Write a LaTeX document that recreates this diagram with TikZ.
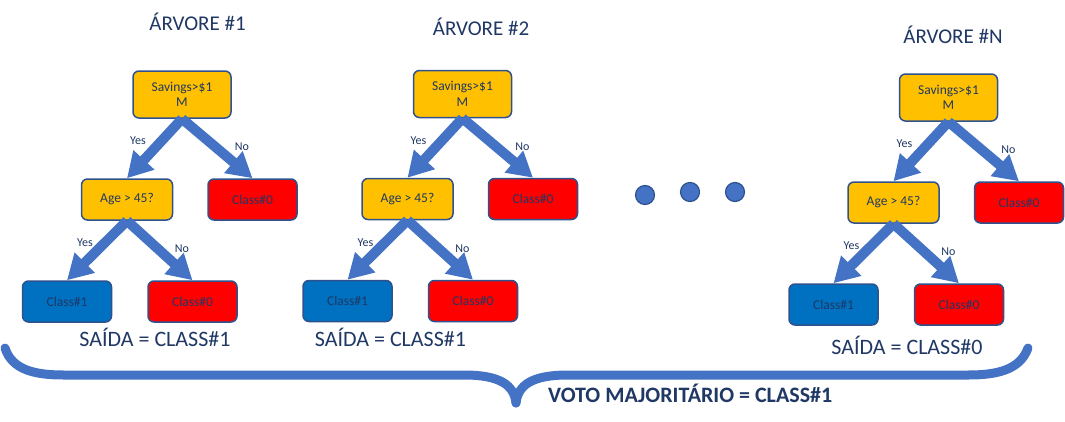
\documentclass[tikz,border=0pt]{standalone}
\usepackage{fontspec}
\setmainfont{Carlito}
\usetikzlibrary{arrows.meta}
\definecolor{gold}{HTML}{FFC000}
\definecolor{redc}{HTML}{FF0000}
\definecolor{bluec}{HTML}{0070C0}
\definecolor{edgec}{HTML}{2F528F}
\definecolor{arrowc}{HTML}{4472C4}
\definecolor{navy}{HTML}{1F3864}
\tikzset{
 box/.style={draw=edgec, line width=1.5pt, rounded corners=6pt, inner sep=0pt, text=navy, font=\fontsize{13.5}{15.5}\selectfont, align=center},
 rootbox/.style={box, fill=gold, minimum width=98pt, minimum height=47pt},
 agebox/.style={box, fill=gold, minimum width=91pt, minimum height=41pt},
 redbox/.style={box, fill=redc, minimum width=89pt, minimum height=41pt},
 bluebox/.style={box, fill=bluec, minimum width=89pt, minimum height=41pt},
 arr/.style={draw=arrowc, line width=10pt, -{Triangle[width=27pt,length=25pt]}},
 lbl/.style={text=navy, font=\fontsize{12}{13}\selectfont, inner sep=0pt},
 ttl/.style={text=navy, font=\fontsize{21}{25}\selectfont, inner sep=0pt},
 outtxt/.style={text=navy, font=\fontsize{22}{26}\selectfont, inner sep=0pt},
 vote/.style={text=navy, font=\fontsize{22}{26}\selectfont\bfseries, inner sep=0pt},
 dotc/.style={circle, draw=edgec, line width=1.2pt, fill=arrowc, minimum size=19pt, inner sep=0pt},
 bracec/.style={draw=arrowc, line width=9pt, line cap=round},
}
\newcommand\drawtree[3]{%
\begin{scope}[shift={(#2,#3)}]
 \node[rootbox] (#1r) at (0,0) {Savings>\$1\\M};
 \node[agebox] (#1a) at (-55,105) {Age > 45?};
 \node[redbox] (#1n) at (70.5,105) {Class\#0};
 \node[bluebox] (#1y) at (-115,207) {Class\#1};
 \node[redbox] (#1z) at (10.5,207) {Class\#0};
 \draw[arr] (#1r.south) -- (#1a.north);
 \draw[arr] (#1r.south) -- (#1n.north);
 \draw[arr] (#1a.south) -- (#1y.north);
 \draw[arr] (#1a.south) -- (#1z.north);
 \node[lbl] (#1l1) at (-44,46.5) {Yes};
 \node[lbl] (#1l2) at (60,52.5) {No};
 \node[lbl] (#1l3) at (-97,148.5) {Yes};
 \node[lbl] (#1l4) at (0,154.5) {No};
\end{scope}}
\begin{document}
\begin{tikzpicture}[x=1pt,y=-1pt]
\useasboundingbox[fill=white] (0,0) rectangle (1065,421);
\drawtree{a}{182}{94.5}
\drawtree{b}{462.5}{94}
\drawtree{c}{948.5}{97.5}
\node[ttl] (t1) at (197.5,22) {ÁRVORE \#1};
\node[ttl] (t2) at (481,27) {ÁRVORE \#2};
\node[ttl] (t3) at (953,35) {ÁRVORE \#N};
\node[outtxt] (o1) at (155,337) {SAÍDA = CLASS\#1};
\node[outtxt] (o2) at (390.5,337) {SAÍDA = CLASS\#1};
\node[outtxt] (o3) at (907,345) {SAÍDA = CLASS\#0};
\node[dotc] (d1) at (645,195) {};
\node[dotc] (d2) at (690,192) {};
\node[dotc] (d3) at (735,192) {};
\draw[bracec] (5,348) .. controls (12,370) and (35,375) .. (64,375) -- (464,375) .. controls (500,375) and (514,385) .. (516,403);
\draw[bracec] (516,403) .. controls (518,385) and (532,375) .. (568,375) -- (968,375) .. controls (997,375) and (1020,370) .. (1028,348);
\node[vote, anchor=west] (v) at (548,393) {VOTO MAJORITÁRIO = CLASS\#1};
\end{tikzpicture}
\end{document}
